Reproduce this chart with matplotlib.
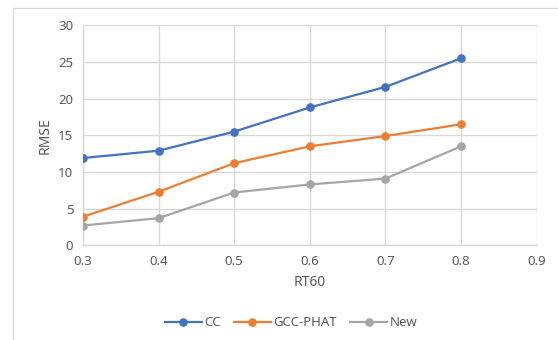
import matplotlib
matplotlib.use("Agg")
import matplotlib.pyplot as plt
from matplotlib.patches import Rectangle

rt60 = [0.3, 0.4, 0.5, 0.6, 0.7, 0.8]
cc = [11.9, 12.9, 15.5, 18.8, 21.6, 25.5]
gcc_phat = [3.9, 7.3, 11.2, 13.5, 14.9, 16.5]
new = [2.7, 3.7, 7.2, 8.3, 9.1, 13.5]
series_names = ["CC", "GCC-PHAT", "New"]
x_ticks = [0.3, 0.4, 0.5, 0.6, 0.7, 0.8, 0.9]
y_ticks = [0, 5, 10, 15, 20, 25, 30]

colors = ["#4472C4", "#ED7D31", "#A5A5A5"]
text_color = "#595959"
grid_color = "#D9D9D9"

plt.rcParams['font.family'] = ['Noto Sans', 'DejaVu Sans']

fig = plt.figure(figsize=(5.58, 3.4), dpi=100)
fig.patches.append(Rectangle((13/558, -0.05), 1.0, 1 - 8/340 + 0.05,
                             transform=fig.transFigure, fill=False,
                             edgecolor=grid_color, linewidth=1.0))

ax = fig.add_axes([83/558, 1 - 245.3/340, (536.7 - 83)/558, (245.3 - 25.3)/340])

for vals, name, c in zip([cc, gcc_phat, new], series_names, colors):
    ax.plot(rt60, vals, color=c, linewidth=1.6, marker='o', markersize=5.2,
            label=name, zorder=3)

ax.set_xlim(0.3, 0.9)
ax.set_ylim(0, 30)
ax.set_xticks(x_ticks)
ax.set_xticklabels([f"{v:g}" for v in x_ticks])
ax.set_yticks(y_ticks)
ax.grid(True, color=grid_color, linewidth=1.0, zorder=0)
for s in ['top', 'right']:
    ax.spines[s].set_visible(False)
for s in ['left', 'bottom']:
    ax.spines[s].set_color(grid_color)
    ax.spines[s].set_linewidth(1.0)
ax.tick_params(length=0, labelcolor=text_color, labelsize=9.5, pad=7)
ax.set_xlabel("RT60", color=text_color, fontsize=10, labelpad=5)
ax.set_ylabel("RMSE", color=text_color, fontsize=10, labelpad=4)

leg = fig.legend(loc='center', bbox_to_anchor=(291/558, 1 - 323/340), ncol=3,
                 frameon=False, fontsize=9.5, labelcolor=text_color,
                 handlelength=2.8, columnspacing=1.0, handletextpad=0.2)

fig.savefig("out.png", dpi=100)
